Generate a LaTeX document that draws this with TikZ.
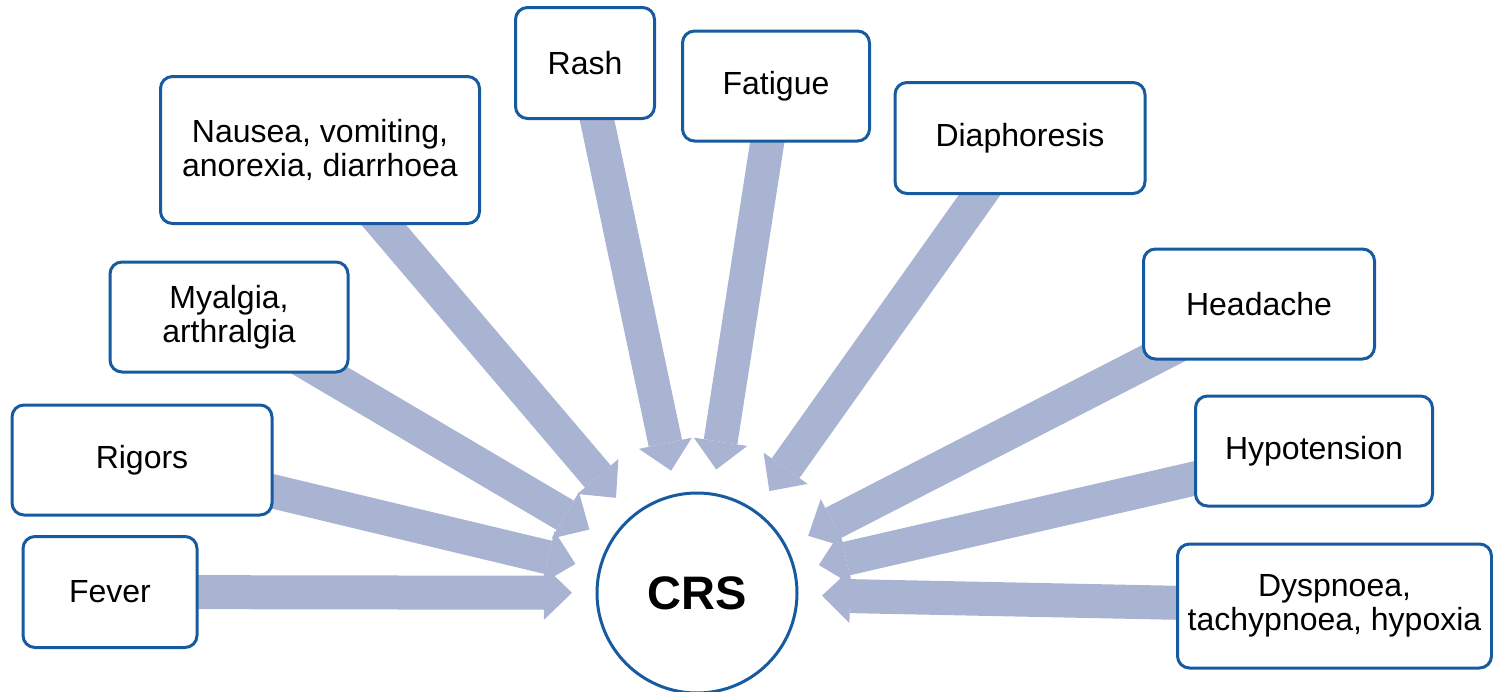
\documentclass[tikz,border=0pt]{standalone}
\usepackage{fontspec}
\setmainfont{Liberation Sans}
\usetikzlibrary{arrows.meta,backgrounds}
\definecolor{boxblue}{RGB}{22,90,160}
\definecolor{arrowgray}{RGB}{169,180,210}
\begin{document}
\begin{tikzpicture}[x=0.5pt,y=-0.5pt,line join=round,
	symptom/.style={draw=boxblue,line width=1.5pt,rounded corners=6pt,fill=white,align=center,inner sep=0pt,font=\fontsize{16}{17}\selectfont},
	fat/.style={arrowgray,line width=17pt,-{Triangle[width=27pt,length=14pt,line width=0pt]},shorten >=62.5pt}]
	\useasboundingbox (0,0) rectangle (1493,691);
	\node[draw=boxblue,line width=1.5pt,circle,minimum size=100pt,inner sep=0pt,font=\fontsize{23.5}{26}\selectfont\bfseries] (crs) at (697,593) {CRS};
	% symptom boxes: name/centre/width/height/text
	\foreach \n/\p/\w/\h/\t in {fever/{110,592}/87/55.5/Fever,
		rigors/{142,460}/130/55/Rigors,
		myalgia/{229,317}/119/55/{Myalgia,\\arthralgia},
		nausea/{320,150}/159.5/73.5/{Nausea, vomiting,\\anorexia, diarrhoea},
		rash/{585,63}/69.5/55.5/Rash,
		fatigue/{776,86}/93.5/55/Fatigue,
		diaph/{1020,138}/125/55.5/Diaphoresis,
		headache/{1259,304}/115.5/55/Headache,
		hypot/{1314,451}/118.5/55/Hypotension,
		dyspnoea/{1334.5,606}/157/62/{Dyspnoea,\\tachypnoea, hypoxia}}
		\node[symptom,minimum width=\w pt,minimum height=\h pt] (\n) at (\p) {\t};
	\begin{scope}[on background layer]
		\foreach \n in {fever,rigors,myalgia,nausea,rash,fatigue,diaph,headache,hypot,dyspnoea}
			\draw[fat] (\n.center)--(crs.center);
	\end{scope}
\end{tikzpicture}
\end{document}
